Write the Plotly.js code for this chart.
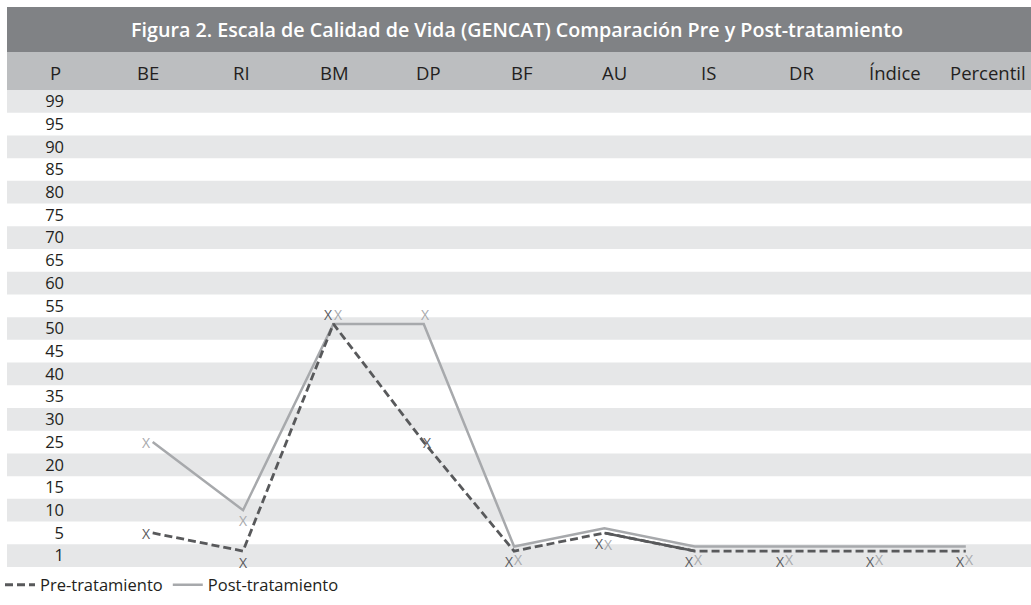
<!DOCTYPE html>
<html>
<head>
<meta charset="utf-8">
<script src="https://cdn.plot.ly/plotly-3.0.1.min.js"></script>
<style>html,body{margin:0;padding:0;background:#fff;}#chart{width:1031px;height:605px;}</style>
</head>
<body>
<div id="chart"></div>
<script>
// ---- data ----
const categories = ['BE', 'RI', 'BM', 'DP', 'BF', 'AU', 'IS', 'DR', 'Índice', 'Percentil'];
const preValues  = [5, 1, 51, 25, 1, 5, 1, 1, 1, 1];
const postValues = [25, 10, 51, 51, 2, 6, 2, 2, 2, 2];
const rowLabels  = ['1','5','10','15','20','25','30','35','40','45','50','55','60','65','70','75','80','85','90','95','99'];
const headerFirst = 'P';
const seriesNames = ['Pre-tratamiento', 'Post-tratamiento'];
const titleText = 'Figura 2. Escala de Calidad de Vida (GENCAT) Comparación Pre y Post-tratamiento';
const pointMark = 'X';

// ---- layout helpers ----
const W = 1031, H = 605;
const plotL = 7, plotW = 1024, plotTop = 90, plotBot = 567, plotH = plotBot - plotTop;
const FONT = '"Open Sans", "Noto Sans", sans-serif';
const rowVals = rowLabels.map((_, k) => 5 * k);
const pxX = px => (px - plotL) / plotW;
const pxY = py => (plotBot - py) / plotH;
const PRE_COLOR = '#58595b', POST_COLOR = '#a7a9ac';

const shapes = [];
// title bar
shapes.push({type:'rect', xref:'paper', yref:'paper', x0:0, x1:1, y0:pxY(52), y1:pxY(7), fillcolor:'#808285', line:{width:0}, layer:'below'});
// header bar
shapes.push({type:'rect', xref:'paper', yref:'paper', x0:0, x1:1, y0:1, y1:pxY(52), fillcolor:'#bcbec0', line:{width:0}, layer:'below'});
// alternating bands
rowVals.forEach((v, k) => {
  if (k % 2 === 0) {
    shapes.push({type:'rect', xref:'paper', yref:'y', x0:0, x1:1, y0:v - 2.5, y1:v + 2.5, fillcolor:'#e6e7e8', line:{width:0}, layer:'below'});
  }
});

const headerColPx = i => 55 + 93.3 * i; // i = 0 for "P"
const annotations = [headerFirst].concat(categories).map((t, i) => ({
  text: t, xref:'paper', yref:'paper', x: pxX(headerColPx(i)), y: pxY(72),
  xanchor:'center', yanchor:'middle', showarrow:false,
  font:{family:FONT, size:18.5, color:'#231f20'}
}));

// "X" point marks, offset (in px) from each data point
const preShift  = [[-6,-1],[0,-11],[-5,9],[4,0],[-5,-10],[-5,-11],[-5,-10],[-5,-10],[-5,-10],[-5,-10]];
const postShift = [[-6,0],[0,-10],[5,9],[2,9],[4,-13],[4,-16],[4,-13],[4,-13],[4,-13],[4,-13]];
function marks(values, shifts, color) {
  return values.map((v, i) => ({
    text: pointMark, xref:'x', yref:'y', x: i, y: v, xshift: shifts[i][0], yshift: shifts[i][1],
    xanchor:'center', yanchor:'middle', showarrow:false,
    font:{family:FONT, size:14, color:color}
  }));
}
const allAnnotations = annotations.concat(marks(postValues, postShift, POST_COLOR), marks(preValues, preShift, PRE_COLOR));

const post = {
  x: categories, y: postValues, name: seriesNames[1], type:'scatter', mode:'lines',
  line:{color:POST_COLOR, width:2.5}, legendrank:2, hoverinfo:'skip'
};
const preSolid = {
  x: categories.slice(5, 7), y: preValues.slice(5, 7), type:'scatter', mode:'lines',
  line:{color:PRE_COLOR, width:2.5}, showlegend:false, hoverinfo:'skip'
};
const pre = {
  x: categories, y: preValues, name: seriesNames[0], type:'scatter', mode:'lines',
  line:{color:PRE_COLOR, width:2.8, dash:'8px,4px'}, legendrank:1, hoverinfo:'skip'
};

const layout = {
  width: W, height: H,
  margin:{l:plotL, r:0, t:plotTop, b:H - plotBot, pad:0},
  paper_bgcolor:'#ffffff', plot_bgcolor:'rgba(0,0,0,0)',
  font:{family:FONT, color:'#231f20'},
  title:{text:titleText, font:{family:FONT, size:19.7, color:'#ffffff', weight:600},
         x: 517 / W, xref:'container', xanchor:'center', y: 1 - 30.5 / H, yref:'container', yanchor:'middle'},
  xaxis:{type:'category', categoryarray:categories, range:[-1.6126, 9.7214],
         showticklabels:false, showgrid:false, zeroline:false, showline:false, ticks:'', fixedrange:true},
  yaxis:{range:[-2.5, 102.5], tickvals:rowVals, ticktext:rowLabels, anchor:'free', position:pxX(64),
         showgrid:false, zeroline:false, showline:false, ticks:'',
         tickfont:{family:FONT, size:16.5, color:'#231f20'}, fixedrange:true},
  shapes: shapes,
  annotations: allAnnotations,
  showlegend:true,
  legend:{orientation:'h', x:pxX(0), xanchor:'left', y:pxY(585), yanchor:'middle',
          font:{family:FONT, size:16.5, color:'#231f20'}, bgcolor:'rgba(0,0,0,0)', itemwidth:30}
};

Plotly.newPlot('chart', [post, preSolid, pre], layout, {displayModeBar:false, staticPlot:true});
</script>
</body>
</html>
